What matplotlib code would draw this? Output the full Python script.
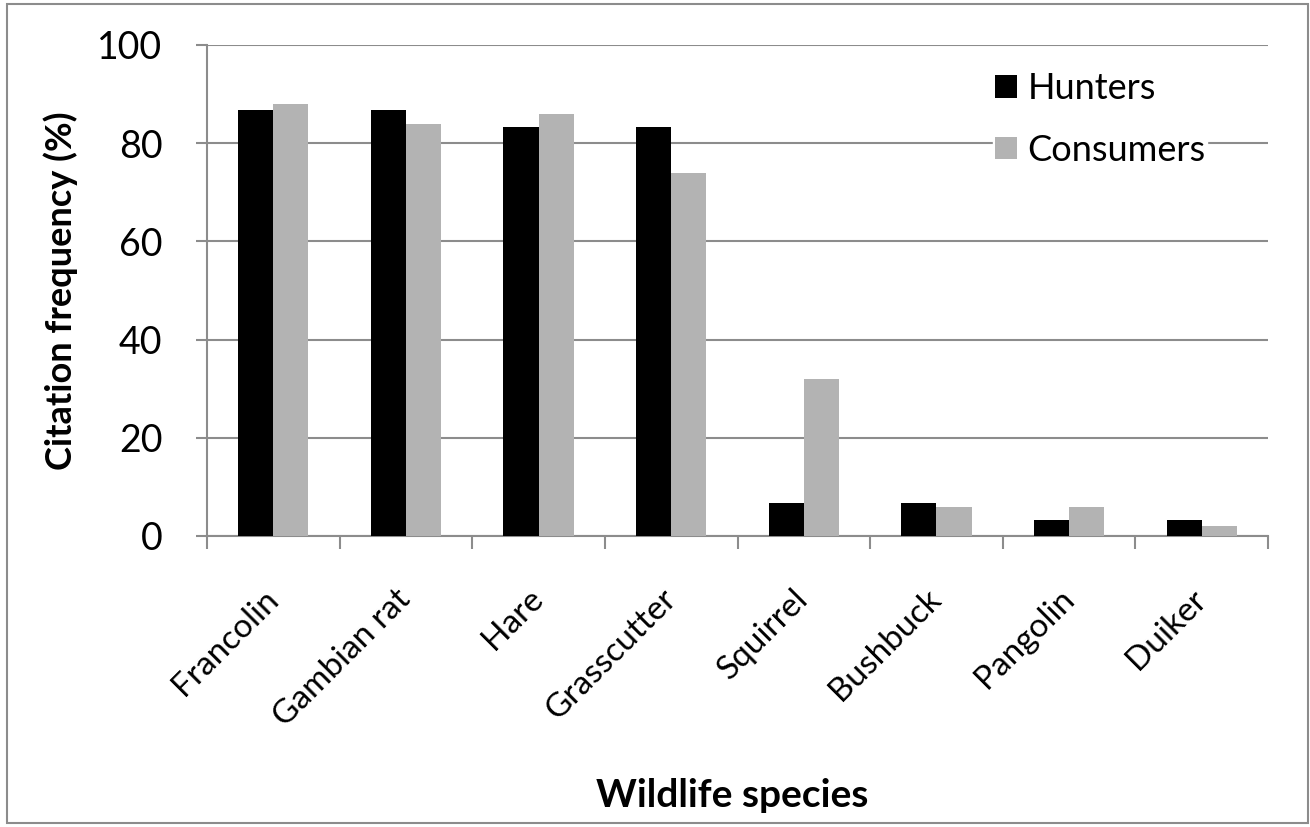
import matplotlib
matplotlib.use('Agg')
import matplotlib.pyplot as plt
import numpy as np
from matplotlib.patches import Rectangle

species = ['Francolin', 'Gambian rat', 'Hare', 'Grasscutter',
           'Squirrel', 'Bushbuck', 'Pangolin', 'Duiker']
hunters = [86.7, 86.7, 83.3, 83.3, 6.7, 6.7, 3.3, 3.3]
consumers = [88, 84, 86, 74, 32, 6, 6, 2]

plt.rcParams['font.family'] = ['Lato', 'DejaVu Sans']

W, H = 1310, 827
fig = plt.figure(figsize=(W / 100, H / 100), dpi=100)
# chart frame like Excel
fig.patches.append(Rectangle((7 / W, 4 / H), 1301 / W, 819 / H, transform=fig.transFigure,
                             fill=False, edgecolor='#8c8c8c', linewidth=1.5))
ax = fig.add_axes([207 / W, 1 - 536 / H, 1061 / W, 491 / H])

x = np.arange(len(species))
w = 0.265
ax.bar(x - w / 2, hunters, w, color='black', label='Hunters', zorder=3)
ax.bar(x + w / 2, consumers, w, color='#b3b3b3', label='Consumers', zorder=3)

ax.set_xlim(-0.5, len(species) - 0.5)
ax.set_ylim(0, 100)
ax.set_yticks(range(0, 101, 20))
ax.yaxis.grid(True, color='#8c8c8c', linewidth=1.5, zorder=0)
ax.set_axisbelow(True)

for s in ['top', 'right']:
    ax.spines[s].set_visible(False)
for s in ['left', 'bottom']:
    ax.spines[s].set_color('#8c8c8c')
    ax.spines[s].set_linewidth(1.5)

# category ticks between groups
ax.set_xticks(np.arange(-0.5, len(species), 1.0))
ax.set_xticklabels([])
ax.set_xticks(x, minor=True)
ax.set_xticklabels(species, minor=True, rotation=45, ha='right', va='center',
                   rotation_mode='anchor', fontsize=24)
ax.tick_params(axis='x', which='major', length=9, width=1.5, color='#8c8c8c')
ax.tick_params(axis='x', which='minor', length=0, pad=42)
ax.tick_params(axis='y', length=8, width=1.5, color='#8c8c8c', labelsize=27, pad=24)

ax.set_ylabel('Citation frequency (%)', fontsize=26, fontweight='bold')
ax.yaxis.set_label_coords((78 - 207) / 1061, 0.5)
fig.text(732 / W, 1 - 807 / H, 'Wildlife species', fontsize=28, fontweight='bold',
         ha='center', va='baseline')

leg = ax.legend(loc='upper left', bbox_to_anchor=(975 / W, 1 - 52 / H),
                bbox_transform=fig.transFigure, fontsize=26,
                frameon=True, framealpha=1, edgecolor='white', fancybox=False,
                handlelength=0.6, handleheight=0.6, handletextpad=0.3,
                labelspacing=0.8, borderpad=0.05)

fig.savefig('out.png', dpi=100)
